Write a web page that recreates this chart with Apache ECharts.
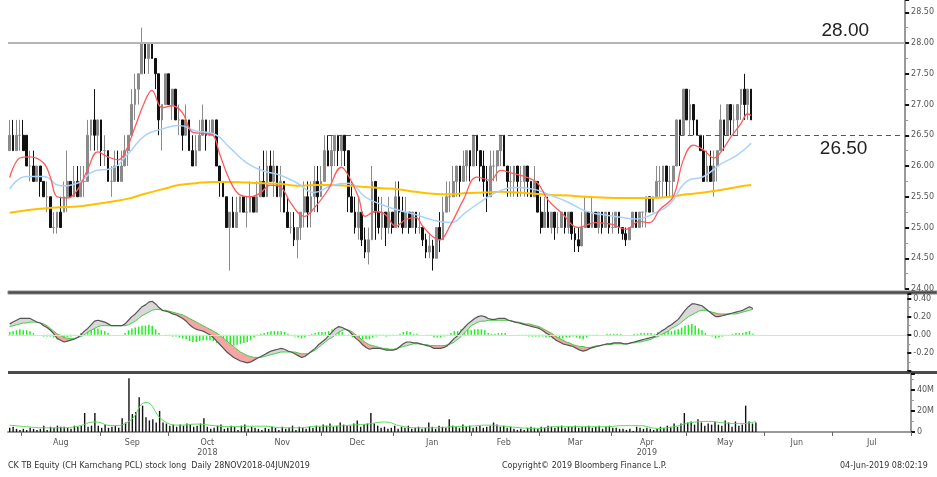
<!DOCTYPE html>
<html>
<head>
<meta charset="utf-8">
<script src="https://cdn.jsdelivr.net/npm/echarts@6/dist/echarts.min.js"></script>
<style>
html, body { margin: 0; padding: 0; background: #fff; }
#chart { width: 937px; height: 477px; }
</style>
</head>
<body>
<div id="chart"></div>
<script>
// trading days (weekdays) Jul 2018 - Jul 2019
const dates = [];
for (let d = new Date(Date.UTC(2018, 6, 26)); d <= new Date(Date.UTC(2019, 6, 31)); d.setUTCDate(d.getUTCDate() + 1)) {
  const wd = d.getUTCDay();
  if (wd !== 0 && wd !== 6) dates.push(d.toISOString().slice(0, 10));
}
const monthNames = ["Jan","Feb","Mar","Apr","May","Jun","Jul","Aug","Sep","Oct","Nov","Dec"];
const yearUnder = { "2018-10": "2018", "2019-04": "2019" };

// daily bars: [open, close, low, high]
const ohlc = [
  [26.25,26.50,26.25,26.75],[26.50,26.25,26.25,26.75],[26.25,26.50,26.25,26.75],[26.50,26.50,26.25,26.75],[26.50,26.25,26.25,26.75],
  [26.50,26.00,26.00,26.50],[26.00,26.00,25.75,26.25],[26.00,25.75,25.75,26.25],[25.75,26.00,25.75,26.00],[26.00,25.75,25.50,26.00],
  [25.75,25.50,25.50,25.75],[25.50,25.50,25.25,25.75],[25.50,25.00,25.00,25.50],[25.00,25.00,24.90,25.25],[25.00,25.25,24.90,25.25],
  [25.25,25.00,25.00,25.50],[25.25,25.50,25.25,25.75],[25.50,25.75,25.25,26.25],[25.75,25.50,25.50,25.75],[25.50,25.75,25.50,26.00],
  [25.75,25.50,25.50,26.00],[25.50,25.75,25.50,26.00],[25.75,25.75,25.50,26.00],[25.75,26.50,25.75,26.75],[26.50,26.75,26.25,26.75],
  [26.75,26.50,26.25,27.25],[26.50,26.75,26.25,26.75],[26.75,26.25,26.00,26.75],[26.25,26.25,26.00,26.50],[26.25,25.75,25.75,26.25],
  [25.75,25.75,25.50,26.00],[25.75,26.00,25.75,26.25],[26.00,25.75,25.75,26.25],[25.75,26.00,25.75,26.25],[26.00,26.25,26.00,26.50],
  [26.25,26.50,26.00,26.50],[26.50,27.00,26.50,27.25],[27.00,27.25,26.75,27.50],[27.25,27.50,27.00,27.50],[27.50,28.00,27.50,28.25],
  [28.00,27.75,27.50,28.00],[27.75,28.00,27.50,28.00],[28.00,27.75,27.75,28.00],[27.75,27.50,27.25,27.75],[27.50,26.75,26.50,27.50],
  [26.75,27.00,26.25,27.00],[27.00,27.50,27.00,27.50],[27.50,27.00,27.00,27.50],[27.00,27.25,26.75,27.25],[27.25,26.75,26.75,27.25],
  [26.75,26.75,26.50,27.00],[26.75,26.50,26.25,26.75],[26.50,26.75,26.50,27.00],[26.75,26.25,26.25,26.75],[26.25,26.00,26.00,26.50],
  [26.00,26.25,26.00,26.50],[26.25,26.50,26.25,26.75],[26.50,26.75,26.50,27.00],[26.75,26.50,26.25,26.75],[26.50,26.50,26.50,26.75],
  [26.50,26.75,26.50,26.75],[26.75,26.00,26.00,26.75],[26.00,25.75,25.50,26.00],[25.75,25.50,25.50,25.75],[25.50,25.00,25.00,25.50],
  [25.00,25.25,24.30,25.25],[25.25,25.00,25.00,25.50],[25.00,25.25,25.00,25.50],[25.25,25.50,25.25,25.50],[25.50,25.25,25.25,25.50],
  [25.25,25.25,25.00,25.50],[25.25,25.50,25.25,25.75],[25.50,25.25,25.25,25.50],[25.25,25.50,25.25,25.75],[25.50,25.75,25.50,26.00],
  [25.75,25.50,25.50,26.25],[25.50,26.00,25.50,26.25],[26.00,25.75,25.75,26.25],[25.75,26.00,25.50,26.25],[26.00,25.50,25.50,26.00],
  [25.50,25.75,25.25,26.00],[25.75,25.25,25.25,25.75],[25.25,25.00,25.00,25.50],[25.00,25.00,24.90,25.25],[25.00,24.80,24.70,25.25],
  [24.80,25.00,24.50,25.00],[25.00,25.25,24.80,25.25],[25.25,25.50,25.00,25.75],[25.50,25.25,25.00,25.75],[25.25,25.50,25.00,25.75],
  [25.50,25.75,25.25,26.00],[25.75,25.50,25.25,26.00],[25.50,25.75,25.50,26.00],[25.75,26.25,25.75,26.50],[26.25,26.00,26.00,26.50],
  [26.00,26.25,25.75,26.50],[26.25,26.50,26.00,26.50],[26.50,26.25,26.00,26.50],[26.25,26.50,26.00,26.50],[26.50,26.25,26.00,26.50],
  [26.25,25.50,25.25,26.25],[25.50,25.25,25.25,25.75],[25.25,25.00,24.90,25.50],[25.00,25.25,24.80,25.50],[25.25,24.80,24.70,25.25],
  [24.80,24.60,24.50,25.00],[24.60,24.80,24.40,25.00],[24.80,25.75,24.80,26.00],[25.75,25.25,24.80,25.75],[25.25,25.00,24.90,25.50],
  [25.00,25.25,24.80,25.50],[25.25,25.00,24.70,25.25],[25.00,25.25,24.90,25.50],[25.25,25.00,24.90,25.25],[25.00,25.50,25.00,25.75],
  [25.50,25.25,25.00,25.75],[25.25,25.00,24.90,25.50],[25.00,25.25,25.00,25.50],[25.25,25.00,24.90,25.25],[25.00,25.25,25.00,25.25],
  [25.25,25.00,24.90,25.25],[25.00,25.00,24.90,25.25],[25.00,24.80,24.70,25.00],[24.80,24.60,24.50,24.90],[24.60,24.70,24.50,24.90],
  [24.70,24.50,24.30,24.80],[24.50,25.00,24.50,25.00],[25.00,24.80,24.60,25.25],[24.80,25.25,24.80,25.50],[25.25,25.50,25.25,25.75],
  [25.50,25.50,25.25,25.75],[25.50,25.75,25.50,26.00],[25.75,26.00,25.50,26.00],[26.00,25.75,25.50,26.00],[25.75,26.00,25.75,26.25],
  [26.00,26.25,25.75,26.25],[26.25,26.00,25.75,26.25],[26.00,26.50,26.00,26.50],[26.50,26.25,26.00,26.50],[26.25,26.00,25.75,26.25],
  [26.00,25.75,25.50,26.25],[25.75,25.50,25.25,26.00],[25.50,26.00,25.50,26.25],[26.00,26.00,25.75,26.25],[26.00,26.25,25.75,26.25],
  [26.25,26.50,26.00,26.50],[26.50,26.00,26.00,26.50],[26.00,25.75,25.50,26.00],[25.75,25.75,25.50,26.00],[25.75,26.00,25.50,26.00],
  [26.00,25.75,25.50,26.00],[25.75,25.75,25.50,26.00],[25.75,26.00,25.50,26.00],[26.00,25.75,25.50,26.00],[25.75,25.50,25.50,25.75],
  [25.50,25.75,25.50,26.00],[25.75,25.25,25.25,25.75],[25.25,25.00,24.90,25.50],[25.00,25.25,25.00,25.50],[25.25,25.00,25.00,25.50],
  [25.00,25.25,24.90,25.25],[25.25,25.00,24.80,25.25],[25.00,25.00,24.90,25.25],[25.00,25.25,25.00,25.25],[25.25,25.00,24.90,25.25],
  [25.00,25.25,24.90,25.25],[25.25,24.90,24.80,25.25],[24.90,24.80,24.60,25.00],[24.80,24.70,24.60,25.00],[24.70,25.00,24.70,25.25],
  [25.00,25.25,25.00,25.50],[25.25,25.00,25.00,25.25],[25.00,25.25,25.00,25.50],[25.25,25.00,25.00,25.25],[25.00,25.25,24.90,25.25],
  [25.25,25.00,24.90,25.25],[25.00,25.25,25.00,25.25],[25.25,25.00,24.90,25.25],[25.00,25.00,24.90,25.25],[25.00,25.25,25.00,25.25],
  [25.25,25.00,24.90,25.25],[25.00,24.90,24.80,25.00],[24.90,24.80,24.70,25.00],[24.80,25.00,24.80,25.00],[25.00,25.25,25.00,25.25],
  [25.25,25.00,25.00,25.25],[25.00,25.25,25.00,25.25],[25.25,25.25,25.00,25.25],[25.25,25.50,25.00,25.50],[25.50,25.25,25.25,25.50],
  [25.25,25.50,25.25,25.50],[25.50,25.75,25.50,26.00],[25.75,25.75,25.50,26.00],[25.75,26.00,25.50,26.00],[26.00,25.75,25.50,26.00],
  [25.75,25.75,25.50,26.00],[25.75,26.00,25.50,26.00],[26.00,26.75,26.00,26.75],[26.75,26.50,26.00,26.75],[26.50,27.25,26.50,27.25],
  [27.25,26.75,26.75,27.25],[26.75,27.00,26.50,27.25],[27.00,26.75,26.50,26.75],[26.75,26.50,26.50,26.75],[26.50,26.25,26.25,26.50],
  [26.25,25.75,25.75,26.50],[25.75,26.00,25.75,26.25],[26.00,25.75,25.75,26.25],[25.75,26.00,25.50,26.25],[26.00,26.25,25.75,26.25],
  [26.25,26.75,26.25,27.00],[26.75,26.50,26.25,26.75],[26.50,27.00,26.50,27.00],[27.00,26.75,26.50,27.00],[26.75,26.75,26.50,27.00],
  [26.75,27.00,26.50,27.00],[27.00,27.25,26.75,27.25],[27.25,27.00,26.75,27.50],[27.00,27.25,26.75,27.25],[27.25,26.75,26.75,27.25]
];

// fast moving average (red): [trading day, value]
const maFast = [
  [0,25.81],[3,26.13],[6,26.15],[10,26.05],[12,25.82],[14,25.50],[17,25.48],[20,25.61],[23,25.94],[26,26.23],
  [29,26.15],[32,26.10],[34,26.21],[37,26.63],[40,27.06],[42,27.23],[45,26.95],[48,26.98],[51,26.87],[54,26.55],
  [57,26.53],[60,26.50],[62,26.20],[65,25.77],[68,25.53],[71,25.50],[74,25.56],[77,25.69],[80,25.66],[83,25.40],
  [87,25.18],[90,25.32],[94,25.61],[98,25.98],[100,25.85],[103,25.50],[105,25.18],[108,25.26],[111,25.21],[114,25.02],
  [117,25.13],[120,25.16],[122,25.02],[125,24.85],[127,24.80],[130,25.02],[134,25.45],[138,25.82],[142,25.77],[145,25.93],
  [148,25.89],[153,25.81],[156,25.72],[159,25.45],[163,25.24],[168,25.00],[173,25.08],[178,25.05],[182,24.97],[186,25.10],
  [189,25.08],[192,25.29],[196,25.50],[199,26.10],[202,26.34],[205,26.26],[208,26.13],[211,26.30],[213,26.47],[216,26.69],
  [218,26.85],[219,26.82]
];

// slower averages read every 5 trading days (last point = last bar)
const maDays = [0,5,10,15,20,25,30,35,40,45,50,55,60,65,70,75,80,85,90,95,100,105,110,115,120,125,130,135,140,145,150,155,160,165,170,175,180,185,190,195,200,205,210,215,219];
const maMid = [25.63,25.83,25.83,25.68,25.72,25.92,25.96,26.20,26.50,26.60,26.66,26.57,26.53,26.30,26.05,25.92,25.85,25.72,25.57,25.68,25.72,25.50,25.37,25.28,25.21,25.12,25.08,25.26,25.45,25.60,25.65,25.62,25.52,25.41,25.27,25.21,25.17,25.14,25.22,25.38,25.75,25.83,26.03,26.18,26.37];
const maSlow = [25.24,25.28,25.31,25.33,25.34,25.38,25.42,25.47,25.55,25.62,25.69,25.72,25.74,25.74,25.73,25.72,25.71,25.68,25.69,25.69,25.68,25.66,25.64,25.62,25.58,25.55,25.54,25.56,25.57,25.58,25.57,25.55,25.53,25.52,25.50,25.49,25.48,25.48,25.48,25.50,25.54,25.57,25.61,25.66,25.69];
const volMa = [6.5,5,4,4,5.5,9.5,6,10,28,11,6.5,7.5,6,5,5.5,5.5,4,4,5.5,5.5,6.5,7.5,9.5,5.5,4,4,5,5.5,6.5,5.5,4,3.5,5,5,5,5,6,6,3.5,5,9,10,8.5,8,10];

// MACD and signal, daily
const macd = [
  0.12,0.14,0.16,0.18,0.18,0.18,0.18,0.16,0.14,0.13, 0.10,0.08,0.05,0.01,-0.04,-0.06,-0.08,-0.07,-0.06,-0.05,
  -0.03,0.00,0.04,0.07,0.11,0.15,0.16,0.15,0.14,0.12, 0.10,0.10,0.10,0.10,0.12,0.16,0.20,0.23,0.27,0.31,
  0.33,0.36,0.37,0.34,0.30,0.27,0.26,0.25,0.23,0.22, 0.20,0.18,0.15,0.11,0.08,0.06,0.05,0.04,0.02,0.00,
  -0.03,-0.07,-0.11,-0.15,-0.19,-0.22,-0.25,-0.27,-0.29,-0.30, -0.31,-0.30,-0.28,-0.26,-0.24,-0.22,-0.20,-0.18,-0.17,-0.16,
  -0.15,-0.16,-0.18,-0.19,-0.21,-0.23,-0.25,-0.24,-0.21,-0.18, -0.15,-0.11,-0.08,-0.05,-0.01,0.03,0.07,0.09,0.08,0.06,
  0.04,0.00,-0.04,-0.07,-0.11,-0.14,-0.16,-0.15,-0.15,-0.15, -0.16,-0.17,-0.17,-0.17,-0.16,-0.13,-0.10,-0.08,-0.08,-0.09,
  -0.09,-0.10,-0.11,-0.12,-0.13,-0.15,-0.15,-0.15,-0.14,-0.12, -0.08,-0.04,-0.01,0.04,0.08,0.12,0.15,0.18,0.20,0.21,
  0.20,0.18,0.17,0.17,0.18,0.18,0.18,0.16,0.15,0.14, 0.13,0.12,0.11,0.10,0.09,0.08,0.07,0.05,0.02,0.00,
  -0.03,-0.06,-0.08,-0.10,-0.11,-0.12,-0.13,-0.15,-0.17,-0.18, -0.17,-0.15,-0.14,-0.13,-0.12,-0.11,-0.10,-0.10,-0.09,-0.09,
  -0.09,-0.10,-0.10,-0.09,-0.08,-0.07,-0.06,-0.05,-0.04,-0.03, -0.02,0.01,0.04,0.06,0.09,0.11,0.14,0.17,0.22,0.27,
  0.31,0.34,0.34,0.33,0.32,0.29,0.26,0.23,0.20,0.20, 0.21,0.22,0.23,0.24,0.25,0.26,0.27,0.29,0.31,0.29
];
const signal = [
  0.09,0.10,0.11,0.12,0.13,0.13,0.14,0.14,0.14,0.13, 0.12,0.10,0.07,0.04,0.01,-0.01,-0.03,-0.04,-0.04,-0.04,
  -0.03,-0.02,0.00,0.03,0.05,0.07,0.09,0.10,0.10,0.10, 0.10,0.10,0.10,0.10,0.10,0.11,0.13,0.15,0.18,0.21,
  0.23,0.25,0.27,0.28,0.28,0.27,0.27,0.26,0.25,0.24, 0.23,0.22,0.20,0.18,0.16,0.14,0.12,0.10,0.08,0.06,
  0.04,0.02,-0.01,-0.04,-0.07,-0.10,-0.13,-0.16,-0.19,-0.21, -0.23,-0.24,-0.25,-0.25,-0.25,-0.24,-0.23,-0.22,-0.21,-0.20,
  -0.19,-0.19,-0.19,-0.19,-0.19,-0.20,-0.21,-0.21,-0.21,-0.19, -0.17,-0.14,-0.11,-0.08,-0.05,-0.03,0.00,0.03,0.05,0.06,
  0.05,0.03,0.00,-0.03,-0.06,-0.09,-0.11,-0.12,-0.13,-0.14, -0.15,-0.15,-0.16,-0.16,-0.15,-0.14,-0.13,-0.12,-0.11,-0.10,
  -0.10,-0.10,-0.11,-0.11,-0.12,-0.12,-0.12,-0.12,-0.12,-0.11, -0.10,-0.08,-0.05,-0.02,0.02,0.06,0.10,0.12,0.14,0.15,
  0.15,0.16,0.16,0.16,0.16,0.16,0.16,0.16,0.15,0.14, 0.14,0.13,0.12,0.12,0.11,0.10,0.09,0.07,0.05,0.03,
  0.01,-0.02,-0.04,-0.06,-0.08,-0.09,-0.11,-0.12,-0.13,-0.13, -0.14,-0.14,-0.13,-0.12,-0.12,-0.11,-0.11,-0.11,-0.10,-0.10,
  -0.10,-0.10,-0.10,-0.09,-0.09,-0.08,-0.08,-0.07,-0.06,-0.05, -0.03,-0.02,0.00,0.02,0.04,0.07,0.09,0.11,0.14,0.17,
  0.20,0.22,0.24,0.26,0.27,0.27,0.26,0.25,0.24,0.23, 0.23,0.23,0.23,0.23,0.23,0.24,0.25,0.26,0.27,0.28
];

// volume, millions of shares
const volume = [
  4,5,3,2,3,2,4,3,2,3, 6,2,5,4,6,5,5,4,3,6, 5,6,18,5,6,18,6,4,7,4, 5,6,4,13,9,51,17,19,33,25,
  14,11,12,9,20,9,8,6,7,5, 7,6,8,7,5,6,8,13,5,3, 4,6,7,3,4,6,5,2,6,7, 3,5,4,3,2,4,3,5,4,2,
  5,3,4,6,2,5,4,3,5,4, 6,5,7,6,8,5,6,9,7,6, 6,8,11,5,7,8,18,8,6,4, 5,3,4,6,3,5,4,6,3,4,
  5,3,4,9,5,3,6,5,4,12, 6,5,4,7,5,6,4,5,6,4, 5,6,9,7,5,6,4,5,3,2, 3,2,4,5,4,3,5,4,6,5,
  4,5,6,4,5,5,6,4,5,5, 6,4,5,6,3,5,6,4,4,3, 3,2,3,1,5,4,3,4,3,2, 3,5,4,6,5,8,5,8,18,9,
  10,7,12,9,6,8,7,10,7,6, 11,9,5,10,6,7,25,10,8,9
];

const pair = (vals) => vals.map((v, k) => [dates[maDays[k]], v]);
const macdLow = macd.map((m, i) => Math.min(m, signal[i]));
const macdUp = macd.map((m, i) => Math.max(m - signal[i], 0));
const macdDown = macd.map((m, i) => Math.max(signal[i] - m, 0));
const histo = macd.map((m, i) => +(m - signal[i]).toFixed(2));

// month ticks at first trading day, label at middle trading day
const monthFirst = new Set();
const monthMid = new Set();
let start = 0;
for (let i = 1; i <= dates.length; i++) {
  if (i === dates.length || dates[i].slice(0, 7) !== dates[i - 1].slice(0, 7)) {
    if (start > 0) monthFirst.add(start);
    if (dates[start].slice(8) <= "05") monthMid.add(Math.floor((start + i - 1) / 2));
    start = i;
  }
}

const font = "DejaVu Sans";
const chart = echarts.init(document.getElementById("chart"));

const hiddenX = (idx) => ({
  type: "category", gridIndex: idx, data: dates, boundaryGap: true,
  axisLine: { show: false }, axisTick: { show: false }, axisLabel: { show: false }
});
const rightY = (idx, min, max, interval, fmt) => ({
  type: "value", gridIndex: idx, position: "right", min, max, interval,
  axisLine: { show: true, lineStyle: { color: "#999", width: 2 } },
  axisTick: { show: true, length: 4, lineStyle: { color: "#111", width: 2 } },
  minorTick: { show: true, splitNumber: 2, length: 3, lineStyle: { color: "#999" } },
  splitLine: { show: false },
  axisLabel: { fontSize: 8, color: "#555", fontFamily: font, margin: 6, formatter: fmt }
});

chart.setOption({
  animation: false,
  grid: [
    { left: 8, right: 26, top: 0, height: 289 },
    { left: 8, right: 26, top: 294, height: 77 },
    { left: 8, right: 26, top: 374, height: 58 }
  ],
  xAxis: [
    hiddenX(0),
    hiddenX(1),
    {
      type: "category", gridIndex: 2, data: dates, boundaryGap: true,
      axisLine: { show: true, lineStyle: { color: "#999", width: 2 } },
      axisTick: { show: true, length: 4, interval: (i) => monthFirst.has(i), lineStyle: { color: "#666" } },
      axisLabel: {
        interval: (i) => monthMid.has(i), fontSize: 8, color: "#555", fontFamily: font, margin: 6, lineHeight: 10,
        formatter: (v) => {
          const m = monthNames[+v.slice(5, 7) - 1];
          const y = yearUnder[v.slice(0, 7)];
          return y ? m + "\n" + y : m;
        }
      }
    }
  ],
  yAxis: [
    rightY(0, 24, 28.7, 0.5, (v) => Math.abs(v * 2 - Math.round(v * 2)) < 1e-6 ? v.toFixed(2) : ""),
    rightY(1, -0.4, 0.45, 0.2, (v) => v > -0.3 && Math.abs(v * 5 - Math.round(v * 5)) < 1e-6 ? v.toFixed(2) : ""),
    rightY(2, 0, 55, 20, (v) => v === 0 ? "0" : v % 20 === 0 ? v + "M" : "")
  ],
  series: [
    {
      type: "candlestick", xAxisIndex: 0, yAxisIndex: 0, data: ohlc, barWidth: 2.2,
      itemStyle: { color: "#8a8a8a", borderColor: "#8a8a8a", color0: "#111", borderColor0: "#111", borderWidth: 1 },
      markLine: {
        silent: true, symbol: "none",
        data: [
          {
            yAxis: 28, lineStyle: { color: "#b5b5b5", width: 2, type: "solid" },
            label: { show: true, formatter: "28.00", position: "insideEndTop", distance: [36, 3], fontSize: 19, color: "#222", fontFamily: "Liberation Sans" }
          },
          [
            {
              coord: [dates[94], 26.5], lineStyle: { color: "#555", width: 1, type: [5, 4] },
              label: { show: true, formatter: "26.50", position: "insideEndBottom", distance: [36, 4], fontSize: 19, color: "#222", fontFamily: "Liberation Sans" }
            },
            { coord: [dates[dates.length - 1], 26.5] }
          ]
        ]
      }
    },
    { type: "line", xAxisIndex: 0, yAxisIndex: 0, data: pair(maSlow), smooth: true, symbol: "none", lineStyle: { color: "#ffc000", width: 2 } },
    { type: "line", xAxisIndex: 0, yAxisIndex: 0, data: pair(maMid), smooth: true, symbol: "none", lineStyle: { color: "#a9d3ff", width: 1.5 } },
    { type: "line", xAxisIndex: 0, yAxisIndex: 0, data: maFast.map(([d, v]) => [dates[d], v]), smooth: 0.4, symbol: "none", lineStyle: { color: "#ff5a5a", width: 1.3 } },

    { type: "line", xAxisIndex: 1, yAxisIndex: 1, data: macdLow, stack: "band", stackStrategy: "all", symbol: "none", lineStyle: { opacity: 0 } },
    { type: "line", xAxisIndex: 1, yAxisIndex: 1, data: macdUp, stack: "band", stackStrategy: "all", symbol: "none", lineStyle: { opacity: 0 }, areaStyle: { color: "#d8d8d8", opacity: 1 } },
    { type: "line", xAxisIndex: 1, yAxisIndex: 1, data: macdDown, stack: "band", stackStrategy: "all", symbol: "none", lineStyle: { opacity: 0 }, areaStyle: { color: "#f6a5a5", opacity: 1 } },
    {
      type: "bar", xAxisIndex: 1, yAxisIndex: 1, data: histo, barWidth: 1.5, itemStyle: { color: "#22ee22" },
      markLine: { silent: true, symbol: "none", label: { show: false }, lineStyle: { color: "#ddd", width: 1, type: "solid" }, data: [{ yAxis: 0 }] }
    },
    { type: "line", xAxisIndex: 1, yAxisIndex: 1, data: signal, symbol: "none", lineStyle: { color: "#44cc44", width: 1 } },
    { type: "line", xAxisIndex: 1, yAxisIndex: 1, data: macd, symbol: "none", lineStyle: { color: "#555", width: 1.2 } },

    { type: "bar", xAxisIndex: 2, yAxisIndex: 2, data: volume, barWidth: 1.4, itemStyle: { color: "#111" } },
    { type: "line", xAxisIndex: 2, yAxisIndex: 2, data: pair(volMa), smooth: true, symbol: "none", lineStyle: { color: "#55dd55", width: 1 } }
  ],
  graphic: [
    { type: "rect", shape: { x: 8, y: 291, width: 929, height: 3 }, style: { fill: "#4a4a4a" }, z: -10 },
    { type: "rect", shape: { x: 8, y: 371, width: 929, height: 3 }, style: { fill: "#4a4a4a" }, z: -10 },
    { type: "text", x: 8, y: 466, style: { text: "CK TB Equity (CH Karnchang PCL) stock long  Daily 28NOV2018-04JUN2019", fontSize: 8, fontFamily: font, fill: "#333", verticalAlign: "middle" } },
    { type: "text", x: 502, y: 466, style: { text: "Copyright\u00a9 2019 Bloomberg Finance L.P.", fontSize: 8, fontFamily: font, fill: "#333", verticalAlign: "middle" } },
    { type: "text", x: 840, y: 466, style: { text: "04-Jun-2019 08:02:19", fontSize: 8, fontFamily: font, fill: "#333", verticalAlign: "middle" } }
  ]
});

// year divider below the axis at the start of 2019
const yearIdx = dates.indexOf("2019-01-01");
const band = (937 - 26 - 8) / dates.length;
const xDiv = chart.convertToPixel({ xAxisIndex: 2 }, dates[yearIdx]) - band / 2;
chart.setOption({
  graphic: [{ type: "line", shape: { x1: xDiv, y1: 445, x2: xDiv, y2: 457 }, style: { stroke: "#888", lineWidth: 1 } }]
});
</script>
</body>
</html>
